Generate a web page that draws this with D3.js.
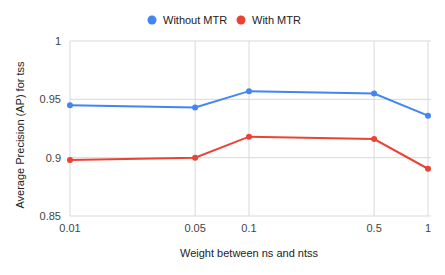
<!DOCTYPE html>
<html>
<head>
<meta charset="utf-8">
<script src="https://cdn.jsdelivr.net/npm/d3@7"></script>
<style>
  body { margin: 0; background: #fff; }
  text { font-family: Arial, "Liberation Sans", sans-serif; }
</style>
</head>
<body>
<svg id="chart" width="445" height="275"></svg>
<script>
const weights = [0.01, 0.05, 0.1, 0.5, 1]
const xTicks = ['0.01', '0.05', '0.1', '0.5', '1']
const yTicks = [0.85, 0.9, 0.95, 1]
const withoutMTR = [0.945, 0.943, 0.957, 0.955, 0.936]
const withMTR = [0.898, 0.900, 0.918, 0.916, 0.8905]
const seriesNames = ['Without MTR', 'With MTR']
const colors = ['#4285f4', '#ea4335']

let svg = d3.select('#chart')

let x = d3.scaleLog().domain([0.01, 1]).range([70, 428]),
    y = d3.scaleLinear().domain([0.85, 1]).range([216, 41])

// gridlines
svg.append('g').selectAll('line.h')
    .data(yTicks)
    .join('line')
    .attr('x1', 70).attr('x2', 431)
    .attr('y1', d => y(d)).attr('y2', d => y(d))
    .style('stroke', '#d9d9d9')
svg.append('g').selectAll('line.v')
    .data(weights)
    .join('line')
    .attr('x1', d => x(d)).attr('x2', d => x(d))
    .attr('y1', 41).attr('y2', 216)
    .style('stroke', '#d9d9d9')

// tick labels
svg.append('g').selectAll('text')
    .data(yTicks)
    .join('text')
    .attr('x', 61)
    .attr('y', d => y(d) + 4)
    .attr('text-anchor', 'end')
    .style('font-size', '11px')
    .style('fill', '#444')
    .text(d => d === 1 ? '1' : String(d))
svg.append('g').selectAll('text')
    .data(weights)
    .join('text')
    .attr('x', d => x(d))
    .attr('y', 232)
    .attr('text-anchor', 'middle')
    .style('font-size', '11px')
    .style('fill', '#444')
    .text((d, i) => xTicks[i])

// axis titles
svg.append('text')
    .attr('x', 249).attr('y', 257)
    .attr('text-anchor', 'middle')
    .style('font-size', '11px')
    .style('fill', '#222')
    .text('Weight between ns and ntss')
svg.append('text')
    .attr('transform', 'translate(24,135) rotate(-90)')
    .attr('text-anchor', 'middle')
    .style('font-size', '11px')
    .style('fill', '#222')
    .text('Average Precision (AP) for tss')

// lines
let line = d3.line().x((d, i) => x(weights[i])).y(d => y(d))
let series = [withoutMTR, withMTR]
let g = svg.append('g')
series.forEach((s, k) => {
    g.append('path')
        .attr('d', line(s))
        .style('fill', 'none')
        .style('stroke', colors[k])
        .style('stroke-width', 2)
    g.append('g').selectAll('circle')
        .data(s)
        .join('circle')
        .attr('cx', (d, i) => x(weights[i]))
        .attr('cy', d => y(d))
        .attr('r', 3)
        .style('fill', colors[k])
})

// legend
let legendX = [152, 241]
let lg = svg.append('g')
seriesNames.forEach((n, k) => {
    lg.append('circle')
        .attr('cx', legendX[k]).attr('cy', 20).attr('r', 4.5)
        .style('fill', colors[k])
    lg.append('text')
        .attr('x', legendX[k] + 11).attr('y', 24)
        .style('font-size', '11px')
        .style('fill', '#222')
        .text(n)
})
</script>
</body>
</html>
